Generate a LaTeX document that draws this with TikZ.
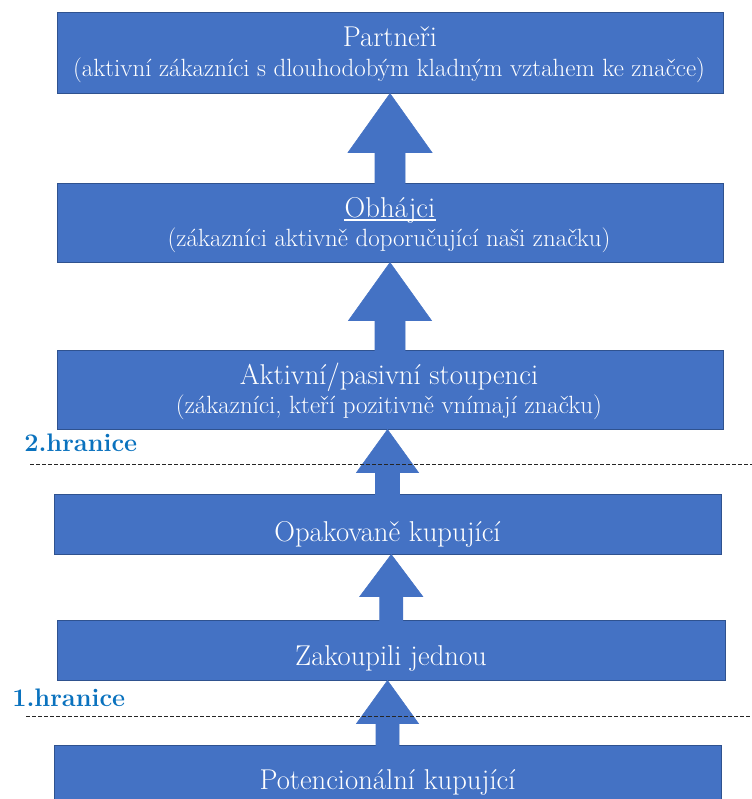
\documentclass[tikz,border=0pt]{standalone}
\usepackage{fontspec}
\usetikzlibrary{fit,calc}
\definecolor{boxblue}{HTML}{4472C4}
\definecolor{boxedge}{HTML}{2F528F}
\definecolor{labelblue}{HTML}{0A72BE}
% #1 lower box, #2 upper box, #3 head half width, #4 head length, #5 shaft half width
\newcommand\blockarrow[5]{%
  \filldraw[arrowshape]
    ($(#1.north)+(-#5,1)$) -- ($(#1.north |- #2.south)+(-#5,#4)$)
    -- ($(#1.north |- #2.south)+(-#3,#4)$) -- (#1.north |- #2.south)
    -- ($(#1.north |- #2.south)+(#3,#4)$) -- ($(#1.north |- #2.south)+(#5,#4)$)
    -- ($(#1.north)+(#5,1)$) -- cycle;}
\begin{document}
\begin{tikzpicture}[x=0.75pt,y=-0.75pt,
  levelbox/.style={draw=boxedge, fill=boxblue, line width=0.75pt, inner sep=0pt},
  arrowshape/.style={fill=boxblue, draw=boxblue, line width=0.4pt},
  headtext/.style={text=white, font=\rmfamily\fontsize{21.5}{26}\selectfont, anchor=base, inner sep=0pt},
  subtext/.style={text=white, font=\rmfamily\fontsize{18.7}{23}\selectfont, anchor=base, inner sep=0pt},
  limitlabel/.style={text=labelblue, font=\rmfamily\bfseries\fontsize{19}{23}\selectfont, anchor=base west, inner sep=0pt},
  limitline/.style={draw=black!85, line width=0.75pt, dash pattern=on 3pt off 1.5pt}]
\useasboundingbox (0,0) rectangle (752,799);
\clip (0,0) rectangle (752,799);
% boxes
\node[levelbox, fit={(57,13) (723,93)}] (partneri) {};
\node[levelbox, fit={(57,183) (723,262)}] (obhajci) {};
\node[levelbox, fit={(57,350) (723,429)}] (aktivni) {};
\node[levelbox, fit={(54,494) (721,554)}] (opakovane) {};
\node[levelbox, fit={(57.5,620) (725,680)}] (zakoupili) {};
\node[levelbox, fit={(54,745) (721,830)}] (potencialni) {};
% arrows
\blockarrow{obhajci}{partneri}{42}{59}{15}
\blockarrow{aktivni}{obhajci}{41.5}{58}{15}
\blockarrow{opakovane}{aktivni}{31}{43}{12}
\blockarrow{zakoupili}{opakovane}{31.5}{42}{11.5}
\blockarrow{potencialni}{zakoupili}{31}{43}{11.5}
% texts
\node[headtext] (t1) at (390,47) {Partneři};
\node[subtext] (s1) at (389,76) {(aktivní zákazníci s dlouhodobým kladným vztahem ke značce)};
\node[headtext] (t2) at (390,217) {Obhájci};
\draw[white, line width=0.9pt] ($(t2.base west)+(0,3)$) -- ($(t2.base east)+(0,3)$);
\node[subtext] (s2) at (389,246) {(zákazníci aktivně doporučující naši značku)};
\node[headtext] (t3) at (389,384) {Aktivní/pasivní stoupenci};
\node[subtext] (s3) at (389,413) {(zákazníci, kteří pozitivně vnímají značku)};
\node[headtext] (t4) at (387.5,541) {Opakovaně kupující};
\node[headtext] (t5) at (391,665) {Zakoupili jednou};
\node[headtext] (t6) at (387.5,789) {Potencionální kupující};
% boundaries
\node[limitlabel] (h2) at (24,451) {2.hranice};
\node[limitlabel] (h1) at (12,706) {1.hranice};
\coordinate (d2a) at (30,464);
\coordinate (d2b) at (760,464);
\coordinate (d1a) at (26,716);
\coordinate (d1b) at (760,716);
\draw[limitline] (d2a) -- (d2b);
\draw[limitline] (d1a) -- (d1b);
\end{tikzpicture}
\end{document}
